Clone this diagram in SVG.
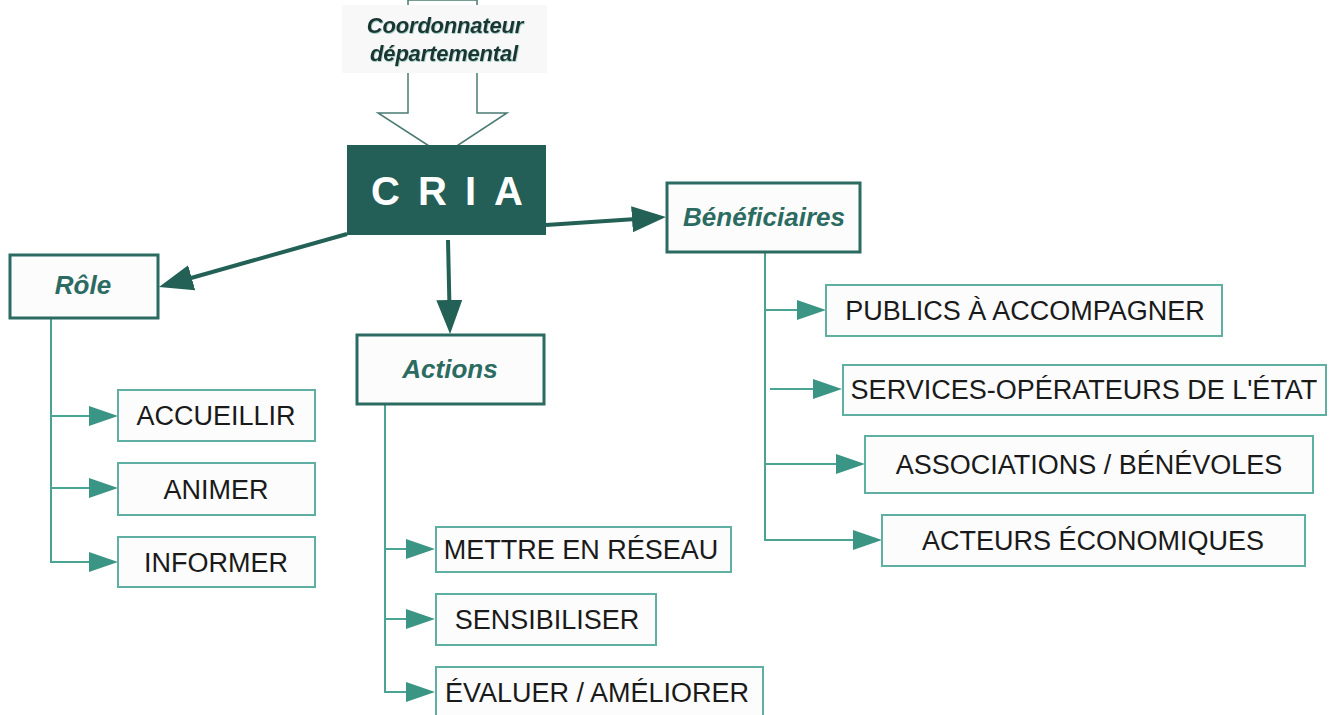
<svg xmlns="http://www.w3.org/2000/svg" width="1336" height="715" viewBox="0 0 1336 715">
<style>
.head{fill:#fcfcfc;stroke:#2b6b61;stroke-width:3}
.child{fill:#fcfcfc;stroke:#5fb0a2;stroke-width:2}
.ht{font-family:"Liberation Sans",Arial,sans-serif;font-weight:bold;font-style:italic;font-size:26px;fill:#2b6b61;text-anchor:middle}
.ct{font-family:"Liberation Sans",Arial,sans-serif;font-size:27px;fill:#1a1a1a;text-anchor:middle}
.big{stroke:#236157;stroke-width:4;fill:none}
.small{stroke:#4aa393;stroke-width:2;fill:none}
.co{font-family:"Liberation Sans",Arial,sans-serif;font-weight:bold;font-style:italic;font-size:22px;fill:#1e3532;text-anchor:middle;letter-spacing:-0.2px}
</style>
<defs>
<marker id="bigA" markerUnits="userSpaceOnUse" markerWidth="36" markerHeight="28" refX="8" refY="13" orient="auto">
<path d="M0,0 L34,13 L0,26 z" fill="#236157"/>
</marker>
<marker id="smallA" markerUnits="userSpaceOnUse" markerWidth="31" markerHeight="21" refX="6" refY="10" orient="auto">
<path d="M0,0 L29,10 L0,20 z" fill="#3a9584"/>
</marker>
<filter id="glow" x="-10%" y="-20%" width="120%" height="140%">
<feDropShadow dx="0.5" dy="0.7" stdDeviation="0.7" flood-color="#5fa89a" flood-opacity="0.8"/>
</filter>
</defs>
<rect width="1336" height="715" fill="#ffffff"/>
<g id="coord-arrow">
<polygon points="408,0 408,113 378,113 443,155 507,113 477,113 477,0" fill="#ffffff" stroke="#4a7a72" stroke-width="1.5"/>
</g>
<g id="coordonnateur">
<rect x="342" y="5" width="205" height="68" fill="#f8f8f8"/>
<text class="co" x="445" y="33" filter="url(#glow)">Coordonnateur</text>
<text class="co" x="444" y="61" filter="url(#glow)">départemental</text>
</g>
<g id="connectors">
<line class="big" x1="347" y1="234" x2="184" y2="280" marker-end="url(#bigA)"/>
<line class="big" x1="448" y1="240" x2="449.5" y2="308" marker-end="url(#bigA)"/>
<line class="big" x1="546" y1="225" x2="640" y2="218.7" marker-end="url(#bigA)"/>
<polyline class="small" points="51,318 51,562 95,562" marker-end="url(#smallA)"/>
<line class="small" x1="51" y1="416" x2="95" y2="416" marker-end="url(#smallA)"/>
<line class="small" x1="51" y1="488" x2="95" y2="488" marker-end="url(#smallA)"/>
<polyline class="small" points="385,404 385,692 412,692" marker-end="url(#smallA)"/>
<line class="small" x1="385" y1="549" x2="412" y2="549" marker-end="url(#smallA)"/>
<line class="small" x1="385" y1="619" x2="412" y2="619" marker-end="url(#smallA)"/>
<polyline class="small" points="765,252 765,540 859,540" marker-end="url(#smallA)"/>
<line class="small" x1="765" y1="310" x2="803" y2="310" marker-end="url(#smallA)"/>
<line class="small" x1="770" y1="389" x2="819" y2="389" marker-end="url(#smallA)"/>
<line class="small" x1="765" y1="464" x2="842" y2="464" marker-end="url(#smallA)"/>
</g>
<g id="cria">
<rect x="347" y="145" width="199" height="90" fill="#235f56"/>
<text x="456" y="205" font-family="'Liberation Sans',Arial,sans-serif" font-weight="bold" font-size="40" fill="#ffffff" text-anchor="middle" letter-spacing="18">CRIA</text>
</g>
<g id="role">
<rect class="head" x="10" y="255" width="148" height="63"/>
<text class="ht" x="83" y="294">Rôle</text>
</g>
<g id="actions">
<rect class="head" x="357" y="335" width="187" height="69"/>
<text class="ht" x="450" y="378">Actions</text>
</g>
<g id="beneficiaires">
<rect class="head" x="667" y="183" width="193" height="69"/>
<text class="ht" x="764" y="226">Bénéficiaires</text>
</g>
<g id="accueillir">
<rect class="child" x="118" y="390" width="197" height="51"/>
<text class="ct" x="216" y="425">ACCUEILLIR</text>
</g>
<g id="animer">
<rect class="child" x="118" y="463" width="197" height="52"/>
<text class="ct" x="216" y="499">ANIMER</text>
</g>
<g id="informer">
<rect class="child" x="118" y="537" width="197" height="50"/>
<text class="ct" x="216" y="572">INFORMER</text>
</g>
<g id="mettre">
<rect class="child" x="436" y="527" width="295" height="45"/>
<text class="ct" x="581" y="559">METTRE EN RÉSEAU</text>
</g>
<g id="sensibiliser">
<rect class="child" x="436" y="594" width="220" height="51"/>
<text class="ct" x="547" y="629">SENSIBILISER</text>
</g>
<g id="evaluer">
<rect class="child" x="436" y="667" width="327" height="60"/>
<text class="ct" x="597" y="702">ÉVALUER / AMÉLIORER</text>
</g>
<g id="publics">
<rect class="child" x="826" y="285" width="396" height="51"/>
<text class="ct" x="1025" y="320">PUBLICS À ACCOMPAGNER</text>
</g>
<g id="services">
<rect class="child" x="843" y="365" width="483" height="50"/>
<text class="ct" x="1084" y="399">SERVICES-OPÉRATEURS DE L'ÉTAT</text>
</g>
<g id="associations">
<rect class="child" x="865" y="436" width="448" height="57"/>
<text class="ct" x="1089" y="474">ASSOCIATIONS / BÉNÉVOLES</text>
</g>
<g id="acteurs">
<rect class="child" x="882" y="515" width="423" height="51"/>
<text class="ct" x="1093" y="550">ACTEURS ÉCONOMIQUES</text>
</g>
</svg>
